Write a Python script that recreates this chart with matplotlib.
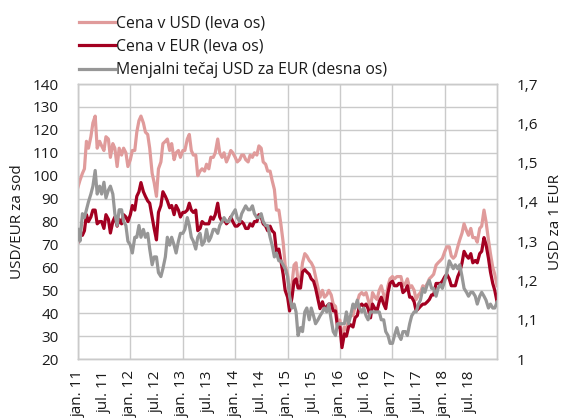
import matplotlib
matplotlib.use('Agg')
import matplotlib.pyplot as plt
from matplotlib.lines import Line2D
import pandas as pd

plt.rcParams['font.family'] = ['Open Sans', 'DejaVu Sans']

# semi-monthly readings (1st and 15th of each month), plus the last day of 2018
dates = list(pd.date_range('2011-01-01', '2018-12-15', freq='SMS')) + [pd.Timestamp('2018-12-31')]

usd = [
    # 2011
    95, 98, 101, 103, 115, 112, 117, 123, 126, 112, 115, 113,
    111, 117, 116, 108, 114, 112, 104, 112, 109, 112, 110, 104,
    # 2012
    107, 111, 111, 119, 124, 126, 123, 119, 118, 112, 101, 97,
    91, 103, 106, 114, 115, 116, 111, 114, 107, 110, 111, 108,
    # 2013
    111, 111, 116, 118, 111, 109, 109, 100, 102, 103, 102, 105,
    103, 108, 108, 110, 116, 110, 108, 110, 106, 108, 111, 110,
    # 2014
    108, 106, 107, 109, 109, 107, 106, 109, 108, 110, 109, 113,
    112, 106, 105, 102, 102, 98, 94, 85, 85, 79, 71, 61,
    # 2015
    57, 48, 53, 61, 62, 54, 55, 62, 66, 65, 63, 62,
    60, 56, 51, 47, 50, 47, 48, 50, 48, 44, 43, 37,
    # 2016
    37, 28, 34, 33, 37, 39, 39, 43, 45, 48, 49, 48,
    49, 46, 42, 49, 47, 46, 50, 52, 48, 45, 52, 55,
    # 2017
    56, 55, 56, 56, 56, 52, 53, 55, 51, 52, 50, 46,
    48, 49, 52, 51, 53, 55, 56, 57, 61, 62, 63, 64,
    # 2018
    67, 69, 69, 65, 64, 65, 69, 72, 75, 79, 76, 74,
    77, 73, 73, 71, 77, 78, 85, 80, 72, 66, 60, 57,
    52,
]

eur = [
    # 2011
    71, 75, 74, 76, 83, 80, 82, 85, 85, 79, 80, 80,
    77, 83, 81, 75, 80, 82, 78, 81, 79, 83, 82, 80,
    # 2012
    83, 87, 85, 91, 93, 97, 93, 91, 89, 88, 82, 77,
    72, 84, 87, 93, 91, 89, 86, 87, 83, 87, 85, 82,
    # 2013
    84, 84, 85, 88, 85, 84, 85, 76, 77, 80, 79, 79,
    79, 82, 81, 83, 88, 82, 80, 81, 79, 80, 82, 80,
    # 2014
    78, 78, 79, 80, 79, 77, 77, 79, 78, 80, 80, 83,
    82, 79, 78, 76, 78, 76, 75, 67, 68, 63, 57, 50,
    # 2015
    47, 41, 47, 54, 55, 51, 51, 58, 59, 58, 57, 55,
    54, 51, 46, 42, 45, 42, 43, 44, 44, 41, 41, 34,
    # 2016
    34, 25, 31, 30, 34, 35, 34, 38, 39, 43, 44, 43,
    44, 42, 38, 44, 42, 41, 45, 47, 44, 42, 49, 53,
    # 2017
    54, 52, 52, 53, 53, 49, 50, 52, 47, 47, 45, 41,
    42, 43, 44, 44, 45, 46, 48, 48, 53, 53, 53, 54,
    # 2018
    56, 57, 55, 52, 52, 52, 56, 58, 62, 67, 65, 64,
    66, 62, 63, 62, 66, 67, 73, 70, 64, 58, 53, 50,
    45,
]

rate = [
    # 2011
    1.33, 1.30, 1.37, 1.36, 1.38, 1.40, 1.42, 1.44, 1.48, 1.42, 1.44, 1.42,
    1.45, 1.41, 1.43, 1.44, 1.42, 1.37, 1.34, 1.38, 1.38, 1.35, 1.34, 1.30,
    # 2012
    1.29, 1.27, 1.31, 1.31, 1.34, 1.31, 1.33, 1.31, 1.32, 1.28, 1.24, 1.26,
    1.26, 1.22, 1.21, 1.23, 1.26, 1.31, 1.29, 1.31, 1.29, 1.27, 1.30, 1.32,
    # 2013
    1.32, 1.33, 1.36, 1.34, 1.31, 1.30, 1.28, 1.31, 1.32, 1.29, 1.30, 1.33,
    1.30, 1.31, 1.33, 1.33, 1.32, 1.34, 1.35, 1.36, 1.35, 1.35, 1.36, 1.37,
    # 2014
    1.38, 1.36, 1.35, 1.37, 1.38, 1.39, 1.38, 1.38, 1.39, 1.37, 1.36, 1.36,
    1.37, 1.35, 1.34, 1.34, 1.31, 1.29, 1.26, 1.27, 1.25, 1.25, 1.24, 1.23,
    # 2015
    1.21, 1.16, 1.13, 1.14, 1.12, 1.06, 1.08, 1.07, 1.12, 1.13, 1.10, 1.13,
    1.11, 1.09, 1.10, 1.11, 1.12, 1.13, 1.12, 1.14, 1.10, 1.07, 1.06, 1.09,
    # 2016
    1.09, 1.09, 1.09, 1.12, 1.09, 1.11, 1.14, 1.13, 1.15, 1.13, 1.12, 1.13,
    1.11, 1.10, 1.12, 1.12, 1.12, 1.12, 1.12, 1.10, 1.10, 1.07, 1.06, 1.04,
    # 2017
    1.04, 1.06, 1.08, 1.06, 1.05, 1.07, 1.07, 1.06, 1.09, 1.11, 1.12, 1.12,
    1.14, 1.15, 1.18, 1.17, 1.19, 1.20, 1.18, 1.18, 1.16, 1.18, 1.19, 1.18,
    # 2018
    1.20, 1.22, 1.25, 1.24, 1.23, 1.24, 1.23, 1.24, 1.21, 1.18, 1.17, 1.16,
    1.17, 1.17, 1.16, 1.14, 1.16, 1.17, 1.16, 1.15, 1.13, 1.14, 1.13, 1.13,
    1.145,
]

left_ticks = list(range(20, 141, 10))
right_ticks = [1.0, 1.1, 1.2, 1.3, 1.4, 1.5, 1.6, 1.7]
right_labels = ['1', '1,1', '1,2', '1,3', '1,4', '1,5', '1,6', '1,7']
years = list(range(2011, 2019))

c_usd = '#E09B9B'
c_eur = '#A30021'
c_rate = '#979797'
c_grid = '#CACACA'
c_text = '#1a1a1a'

fig = plt.figure(figsize=(5.65, 4.2), dpi=100)
ax = fig.add_axes([0.138, 0.145, 0.742, 0.655])
ax2 = ax.twinx()

ax.plot(dates, usd, color=c_usd, linewidth=2.3, zorder=3)
ax.plot(dates, eur, color=c_eur, linewidth=2.3, zorder=4)
ax2.plot(dates, rate, color=c_rate, linewidth=2.3, zorder=5)

ax.set_ylim(20, 140)
ax.set_yticks(left_ticks)
ax2.set_ylim(1.0, 1.7)
ax2.set_yticks(right_ticks)
ax2.set_yticklabels(right_labels)

# gridlines at every January, labels every half year (no label for jan. 19)
ax.set_xlim(pd.Timestamp('2011-01-01'), pd.Timestamp('2019-01-01'))
ax.set_xticks([pd.Timestamp(f'{y}-01-01') for y in years])
ax.set_xticklabels([f'jan. {y % 100}' for y in years], rotation=90)
ax.set_xticks([pd.Timestamp(f'{y}-07-01') for y in years], minor=True)
ax.set_xticklabels([f'jul. {y % 100}' for y in years], minor=True, rotation=90)

ax.grid(True, which='major', color=c_grid, linewidth=1.0)
ax.set_axisbelow(True)
for a in (ax, ax2):
    for s in a.spines.values():
        s.set_color(c_grid)
        s.set_linewidth(1.0)
    a.tick_params(which='both', length=0, labelsize=11, colors=c_text)
ax.tick_params(axis='x', which='both', pad=8)
ax.tick_params(axis='y', pad=14)
ax2.tick_params(axis='y', pad=14)

ax.set_ylabel('USD/EUR za sod', fontsize=11, labelpad=5, color=c_text)
ax2.set_ylabel('USD za 1 EUR', fontsize=11, labelpad=7, color=c_text)

handles = [Line2D([], [], color=c_usd, linewidth=2.3),
           Line2D([], [], color=c_eur, linewidth=2.3),
           Line2D([], [], color=c_rate, linewidth=2.3)]
labels = ['Cena v USD (leva os)', 'Cena v EUR (leva os)',
          'Menjalni tečaj USD za EUR (desna os)']
leg = fig.legend(handles, labels, loc='upper left', bbox_to_anchor=(0.12, 0.99),
                 frameon=False, fontsize=11.3, handlelength=2.3, handletextpad=0.1,
                 labelspacing=0.48, borderaxespad=0.3)
for t in leg.get_texts():
    t.set_color(c_text)

fig.savefig('out.png', dpi=100)
